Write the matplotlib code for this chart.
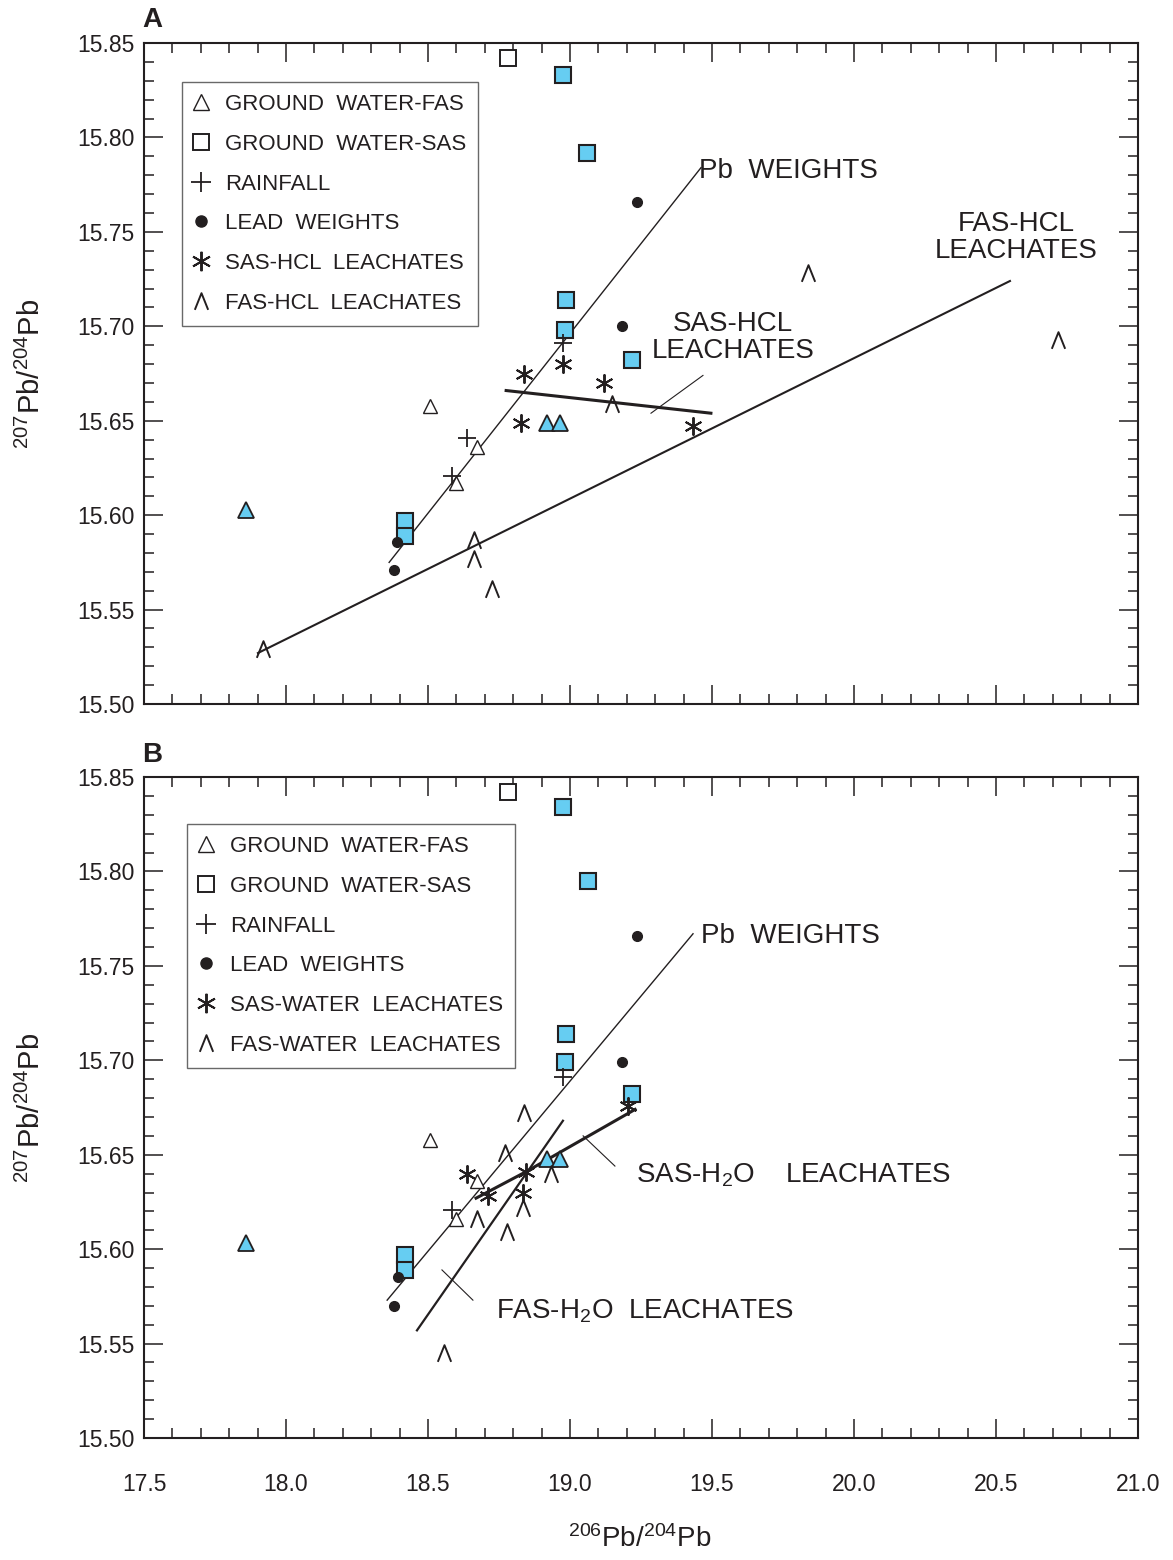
import numpy as np
import matplotlib
matplotlib.use('Agg')
import matplotlib.pyplot as plt
from matplotlib.path import Path
from matplotlib.lines import Line2D
from matplotlib.ticker import MultipleLocator, FormatStrFormatter

plt.rcParams['font.family'] = ['Liberation Sans', 'DejaVu Sans']
plt.rcParams['mathtext.default'] = 'regular'

# ---- panel A data (206Pb/204Pb, 207Pb/204Pb) ----
a_gw_fas_x = [18.507, 18.673, 18.600]
a_gw_fas_y = [15.658, 15.636, 15.617]
a_gw_fas_blue_x = [18.919, 18.965, 17.860]
a_gw_fas_blue_y = [15.649, 15.649, 15.603]
a_gw_sas_x = [18.782]
a_gw_sas_y = [15.842]
a_gw_sas_blue_x = [18.975, 19.060, 18.986, 18.982, 19.218, 18.420, 18.420]
a_gw_sas_blue_y = [15.833, 15.792, 15.714, 15.698, 15.682, 15.597, 15.589]
a_rain_x = [18.637, 18.585, 18.975]
a_rain_y = [15.641, 15.621, 15.691]
a_lead_x = [19.236, 19.183, 18.390, 18.380]
a_lead_y = [15.766, 15.700, 15.586, 15.571]
a_sas_x = [18.838, 18.975, 18.827, 19.120, 19.433]
a_sas_y = [15.675, 15.680, 15.649, 15.670, 15.647]
a_fas_x = [19.148, 18.662, 18.662, 18.725, 17.920, 19.838, 20.718]
a_fas_y = [15.659, 15.587, 15.577, 15.561, 15.529, 15.728, 15.693]
a_pbw_line = ([18.363, 19.461], [15.575, 15.784])
a_fas_line = ([17.901, 20.549], [15.527, 15.724])
a_sas_line = ([18.775, 19.496], [15.666, 15.654])
a_sas_leader = ([19.285, 19.468], [15.654, 15.674])

# ---- panel B data ----
b_gw_fas_x = [18.507, 18.673, 18.600]
b_gw_fas_y = [15.658, 15.636, 15.616]
b_gw_fas_blue_x = [18.919, 18.965, 17.860]
b_gw_fas_blue_y = [15.648, 15.648, 15.603]
b_gw_sas_x = [18.782]
b_gw_sas_y = [15.842]
b_gw_sas_blue_x = [18.975, 19.063, 18.986, 18.982, 19.218, 18.420, 18.420]
b_gw_sas_blue_y = [15.834, 15.795, 15.714, 15.699, 15.682, 15.597, 15.589]
b_rain_x = [18.975, 18.585]
b_rain_y = [15.691, 15.621]
b_lead_x = [19.236, 19.183, 18.394, 18.380]
b_lead_y = [15.766, 15.699, 15.585, 15.570]
b_sas_x = [18.637, 18.711, 18.845, 18.835, 19.204]
b_sas_y = [15.640, 15.628, 15.641, 15.630, 15.676]
b_fas_x = [18.838, 18.771, 18.933, 18.835, 18.673, 18.778, 18.556]
b_fas_y = [15.672, 15.651, 15.640, 15.622, 15.616, 15.609, 15.545]
b_pbw_line = ([18.356, 19.433], [15.573, 15.767])
b_fas_line = ([18.461, 18.975], [15.557, 15.668])
b_sas_line = ([18.669, 18.845, 19.229], [15.627, 15.641, 15.674])
b_sas_leader = ([19.046, 19.158], [15.660, 15.644])
b_fas_leader = ([18.549, 18.658], [15.589, 15.573])

labels_a = ['GROUND  WATER-FAS', 'GROUND  WATER-SAS', 'RAINFALL',
            'LEAD  WEIGHTS', 'SAS-HCL  LEACHATES', 'FAS-HCL  LEACHATES']
labels_b = ['GROUND  WATER-FAS', 'GROUND  WATER-SAS', 'RAINFALL',
            'LEAD  WEIGHTS', 'SAS-WATER  LEACHATES', 'FAS-WATER  LEACHATES']

blue = '#66CDF2'
ink = '#231F20'
caret = Path([(-0.8, -1.0), (0.0, 1.0), (0.8, -1.0)],
             [Path.MOVETO, Path.LINETO, Path.LINETO])
aster = (6, 2, 0)

sty = {
    'fas': dict(marker='^', ms=10, mfc='white', mec=ink, mew=1.0, ls='none'),
    'fasb': dict(marker='^', ms=12, mfc=blue, mec=ink, mew=1.3, ls='none'),
    'sas': dict(marker='s', ms=11, mfc='white', mec=ink, mew=1.4, ls='none'),
    'sasb': dict(marker='s', ms=11, mfc=blue, mec=ink, mew=1.5, ls='none'),
    'rain': dict(marker='+', ms=13, mec=ink, mew=1.3, ls='none'),
    'lead': dict(marker='o', ms=7, mfc=ink, mec=ink, ls='none'),
    'ast': dict(marker=aster, ms=13, mec=ink, mew=1.4, ls='none'),
    'car': dict(marker=caret, ms=12, mfc='none', mec=ink, mew=1.4, ls='none'),
}
leg_sty = {
    'fas': dict(sty['fas'], ms=11.5),
    'sas': dict(sty['sas'], ms=11.5),
    'rain': dict(sty['rain'], ms=15),
    'lead': dict(sty['lead'], ms=8),
    'ast': dict(sty['ast'], ms=14),
    'car': dict(sty['car'], ms=12),
}

fig = plt.figure(figsize=(11.73, 15.6), dpi=100)
axA = fig.add_axes([0.1228, 0.5487, 0.8474, 0.4237])
axB = fig.add_axes([0.1228, 0.0782, 0.8474, 0.4237])


def draw_panel(ax, d, labels, leg_xy):
    ax.plot(*d['pbw'], color=ink, lw=1.0, zorder=2)
    for ln in d['thick']:
        ax.plot(*ln[0], color=ink, lw=ln[1], zorder=2)
    for ld in d['leaders']:
        ax.plot(*ld, color=ink, lw=0.8, zorder=2)
    ax.plot(d['fas_gw'][0], d['fas_gw'][1], **sty['fas'], zorder=3)
    ax.plot(d['fas_gwb'][0], d['fas_gwb'][1], **sty['fasb'], zorder=3)
    ax.plot(d['sas_gw'][0], d['sas_gw'][1], **sty['sas'], zorder=3)
    ax.plot(d['sas_gwb'][0], d['sas_gwb'][1], **sty['sasb'], zorder=3)
    ax.plot(d['rain'][0], d['rain'][1], **sty['rain'], zorder=3)
    ax.plot(d['lead'][0], d['lead'][1], **sty['lead'], zorder=3)
    ax.plot(d['ast'][0], d['ast'][1], **sty['ast'], zorder=3)
    ax.plot(d['car'][0], d['car'][1], **sty['car'], zorder=3)

    hs = [Line2D([], [], **leg_sty[k]) for k in ['fas', 'sas', 'rain', 'lead', 'ast', 'car']]
    leg = ax.legend(hs, labels, loc='upper left', bbox_to_anchor=leg_xy,
                    frameon=True, fancybox=False, edgecolor='#444444',
                    fontsize=16, handlelength=0.6, handletextpad=0.79,
                    labelspacing=0.84, borderpad=0.55, borderaxespad=0)
    leg.get_frame().set_linewidth(1.0)
    for t in leg.get_texts():
        t.set_color(ink)

    ax.set_xlim(17.5, 21.0)
    ax.set_ylim(15.50, 15.85)
    ax.xaxis.set_major_locator(MultipleLocator(0.5))
    ax.xaxis.set_minor_locator(MultipleLocator(0.1))
    ax.yaxis.set_major_locator(MultipleLocator(0.05))
    ax.yaxis.set_minor_locator(MultipleLocator(0.01))
    ax.yaxis.set_major_formatter(FormatStrFormatter('%.2f'))
    ax.xaxis.set_major_formatter(FormatStrFormatter('%.1f'))
    ax.tick_params(which='both', direction='in', top=True, right=True,
                   colors=ink, labelsize=16.5, width=1.1)
    ax.tick_params(which='major', length=14)
    ax.tick_params(which='minor', length=7)
    ax.tick_params(axis='y', pad=7)
    ax.tick_params(axis='x', pad=25)
    for s in ax.spines.values():
        s.set_linewidth(1.5)
        s.set_color(ink)


draw_panel(axA, {
    'pbw': a_pbw_line,
    'thick': [(a_fas_line, 1.5), (a_sas_line, 2.2)],
    'leaders': [a_sas_leader],
    'fas_gw': (a_gw_fas_x, a_gw_fas_y), 'fas_gwb': (a_gw_fas_blue_x, a_gw_fas_blue_y),
    'sas_gw': (a_gw_sas_x, a_gw_sas_y), 'sas_gwb': (a_gw_sas_blue_x, a_gw_sas_blue_y),
    'rain': (a_rain_x, a_rain_y), 'lead': (a_lead_x, a_lead_y),
    'ast': (a_sas_x, a_sas_y), 'car': (a_fas_x, a_fas_y),
}, labels_a, (0.038, 0.941))

draw_panel(axB, {
    'pbw': b_pbw_line,
    'thick': [(b_fas_line, 1.6), (b_sas_line, 2.2)],
    'leaders': [b_sas_leader, b_fas_leader],
    'fas_gw': (b_gw_fas_x, b_gw_fas_y), 'fas_gwb': (b_gw_fas_blue_x, b_gw_fas_blue_y),
    'sas_gw': (b_gw_sas_x, b_gw_sas_y), 'sas_gwb': (b_gw_sas_blue_x, b_gw_sas_blue_y),
    'rain': (b_rain_x, b_rain_y), 'lead': (b_lead_x, b_lead_y),
    'ast': (b_sas_x, b_sas_y), 'car': (b_fas_x, b_fas_y),
}, labels_b, (0.043, 0.929))

axA.tick_params(axis='x', labelbottom=False)

# line labels
fs = 20
axA.text(19.454, 15.782, 'Pb  WEIGHTS', fontsize=fs, color=ink, ha='left', va='center')
axA.text(19.574, 15.694, 'SAS-HCL\nLEACHATES', fontsize=fs, color=ink,
         ha='center', va='center', linespacing=1.07)
axA.text(20.570, 15.747, 'FAS-HCL\nLEACHATES', fontsize=fs, color=ink,
         ha='center', va='center', linespacing=1.07)
axB.text(19.461, 15.766, 'Pb  WEIGHTS', fontsize=fs, color=ink, ha='left', va='center')
axB.text(19.232, 15.639, 'SAS-H$_2$O    LEACHATES', fontsize=fs, color=ink,
         ha='left', va='center')
axB.text(18.739, 15.567, 'FAS-H$_2$O  LEACHATES', fontsize=fs, color=ink,
         ha='left', va='center')

fig.text(0.1296, 0.987, 'A', fontsize=20, fontweight='bold', color=ink, ha='center', va='center')
fig.text(0.1296, 0.516, 'B', fontsize=20, fontweight='bold', color=ink, ha='center', va='center')

ylab = '$^{207}$Pb/$^{204}$Pb'
fig.text(0.027, 0.7606, ylab, fontsize=21, color=ink, rotation=90, ha='center', va='center')
fig.text(0.027, 0.290, ylab, fontsize=21, color=ink, rotation=90, ha='center', va='center')
fig.text(0.5456, 0.0135, '$^{206}$Pb/$^{204}$Pb', fontsize=20, color=ink, ha='center', va='center')

fig.savefig('out.png', dpi=100)
